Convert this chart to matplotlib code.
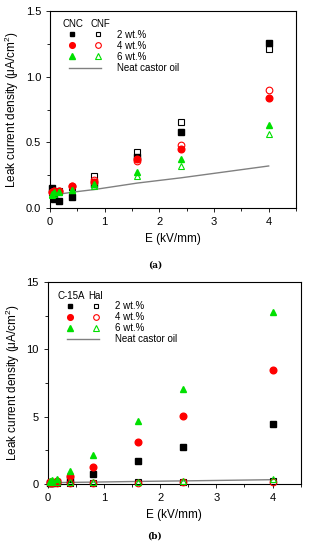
import matplotlib
matplotlib.use("Agg")
import matplotlib.pyplot as plt
from matplotlib.legend_handler import HandlerTuple
from matplotlib.ticker import MultipleLocator

plt.rcParams['font.family'] = ['Liberation Sans', 'DejaVu Sans']
plt.rcParams['mathtext.fontset'] = 'custom'
plt.rcParams['mathtext.rm'] = 'Liberation Sans'
plt.rcParams['mathtext.default'] = 'regular'

# field strength, kV/mm
E = [0.04, 0.08, 0.16, 0.4, 0.8, 1.6, 2.4, 4.0]

# panel (a): CNC (filled) and CNF (open)
cnc_2 = [0.15, 0.065, 0.055, 0.085, 0.18, 0.39, 0.58, 1.26]
cnc_4 = [0.12, 0.13, 0.13, 0.17, 0.20, 0.37, 0.45, 0.835]
cnc_6 = [0.11, 0.12, 0.12, 0.14, 0.18, 0.275, 0.37, 0.63]
cnf_2 = [0.12, 0.13, 0.13, 0.16, 0.245, 0.43, 0.655, 1.21]
cnf_4 = [0.12, 0.13, 0.13, 0.165, 0.215, 0.355, 0.48, 0.895]
cnf_6 = [0.10, 0.11, 0.12, 0.135, 0.165, 0.245, 0.32, 0.565]

# panel (b): C-15A (filled) and Hal (open)
c15a_2 = [0.08, 0.10, 0.12, 0.35, 0.72, 1.73, 2.77, 4.45]
c15a_4 = [0.12, 0.15, 0.25, 0.62, 1.29, 3.14, 5.07, 8.5]
c15a_6 = [0.2, 0.3, 0.4, 0.99, 2.13, 4.68, 7.08, 12.74]
hal_2 = [0.10, 0.10, 0.10, 0.10, 0.10, 0.12, 0.15, 0.20]
hal_4 = [0.08, 0.08, 0.08, 0.09, 0.10, 0.10, 0.12, 0.15]
hal_6 = [0.12, 0.13, 0.13, 0.14, 0.15, 0.17, 0.22, 0.38]

# neat castor oil
neat = [0.10, 0.10, 0.105, 0.12, 0.14, 0.19, 0.23, 0.32]

labels = ['2 wt.%', '4 wt.%', '6 wt.%']
green = '#00e000'
styles = [('s', 'black'), ('o', 'red'), ('^', green)]

fig = plt.figure(figsize=(3.1, 5.5), dpi=100)
ax_a = fig.add_axes([50 / 310, 1 - 208 / 550, 246 / 310, 197 / 550])
ax_b = fig.add_axes([47.7 / 310, 1 - 484 / 550, 253 / 310, 202 / 550])


def draw(ax, filled, opened, names, name_x, leg_x, ymax, ymajor, yminor, fmt):
    handles = []
    for (m, c), f, o in zip(styles, filled, opened):
        ms = 4.2 if m == 's' else 4.8
        h1, = ax.plot(E, f, m, color=c, ms=ms, ls='none', clip_on=False, zorder=3)
        h2, = ax.plot(E, o, m, mfc='none', mec=c, mew=0.8, ms=ms, ls='none',
                      clip_on=False, zorder=3)
        handles.append((h1, h2))
    hl, = ax.plot(E, neat, color='#808080', lw=1, zorder=2)
    handles.append(hl)
    ax.legend(handles, labels + ['Neat castor oil'],
              handler_map={tuple: HandlerTuple(ndivide=None, pad=2.06)},
              loc='upper left', bbox_to_anchor=(leg_x, 0.906), frameon=False,
              fontsize=7, markerscale=0.85,
              handlelength=3.29, handletextpad=1.65, labelspacing=0.12,
              borderaxespad=0, borderpad=0)
    for name, nx in zip(names, name_x):
        ax.text(nx, 0.933, name, transform=ax.transAxes, fontsize=7,
                ha='left', va='center')
    ax.set_xlim(0, 4.5)
    ax.set_ylim(0, ymax)
    ax.xaxis.set_major_locator(MultipleLocator(1))
    ax.xaxis.set_minor_locator(MultipleLocator(0.5))
    ax.yaxis.set_major_locator(MultipleLocator(ymajor))
    ax.yaxis.set_minor_locator(MultipleLocator(yminor))
    ax.yaxis.set_major_formatter(fmt)
    ax.tick_params(which='both', direction='out', labelsize=8, width=0.6)
    ax.tick_params(which='major', length=3)
    ax.tick_params(which='minor', length=2)
    for s in ax.spines.values():
        s.set_linewidth(0.8)
    ax.set_xlabel('E (kV/mm)', fontsize=8.5, labelpad=4)
    ax.set_ylabel('Leak current density (μA/cm$^2$)', fontsize=8.5, labelpad=3)


draw(ax_a, [cnc_2, cnc_4, cnc_6], [cnf_2, cnf_4, cnf_6], ['CNC', 'CNF'],
     [0.049, 0.163], 0.077, 1.5, 0.5, 0.25, '{x:.1f}')
draw(ax_b, [c15a_2, c15a_4, c15a_6], [hal_2, hal_4, hal_6], ['C-15A', 'Hal'],
     [0.037, 0.159], 0.076, 15, 5, 2.5, '{x:.0f}')

fig.text(155 / 310, 1 - 265 / 550, '(a)', family='DejaVu Serif', fontsize=6.5,
         fontweight='bold', ha='center', va='center')
fig.text(155 / 310, 1 - 536 / 550, '(b)', family='DejaVu Serif', fontsize=6.5,
         fontweight='bold', ha='center', va='center')

fig.savefig('out.png', dpi=100)
